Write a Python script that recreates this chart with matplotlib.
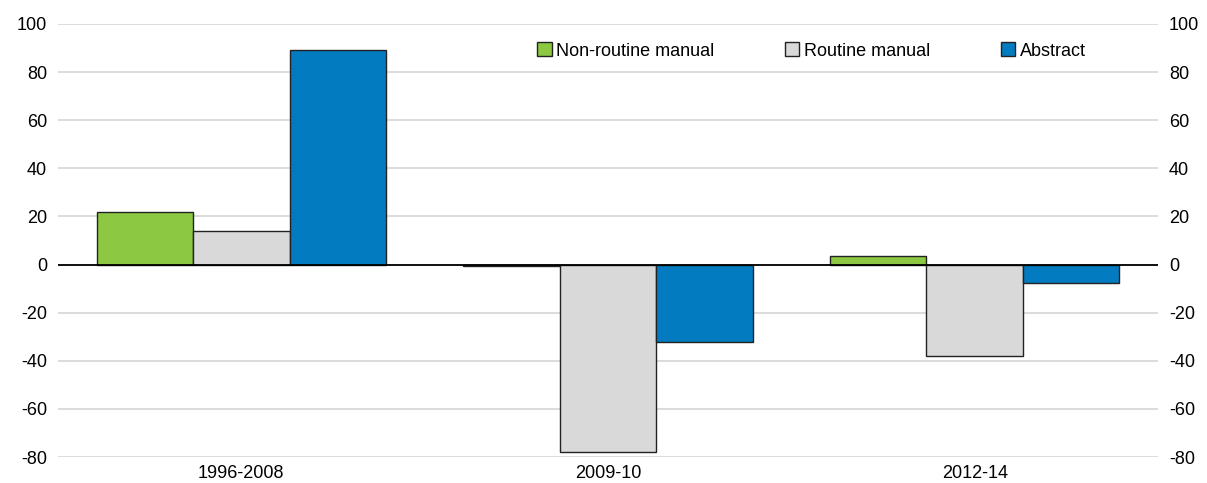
import numpy as np
import matplotlib.pyplot as plt

plt.rcParams['font.family'] = ['Liberation Sans', 'DejaVu Sans']
plt.rcParams['font.size'] = 13
plt.rcParams['axes.unicode_minus'] = False

# data
periods = ["1996-2008", "2009-10", "2012-14"]
non_routine_manual = [22, -0.5, 3.7]
routine_manual = [14, -78, -38]
abstract = [89, -32, -7.5]

series = [
    ("Non-routine manual", non_routine_manual, "#8cc841"),
    ("Routine manual", routine_manual, "#d9d9d9"),
    ("Abstract", abstract, "#037bc1"),
]

fig = plt.figure(figsize=(12.07, 4.83), dpi=100)
ax = fig.add_axes([58 / 1207, 26 / 483, 1100 / 1207, 433 / 483])

x = np.arange(len(periods))
w = 0.263
for i, (name, vals, col) in enumerate(series):
    ax.bar(x + (i - 1) * w, vals, width=w, color=col, edgecolor="#222222",
           linewidth=1.0, label=name, zorder=3)

ax.axhline(0, color="black", linewidth=1.3, zorder=4)
ax.set_xlim(-0.5, 2.5)
ax.set_ylim(-80, 100)
ax.set_yticks(np.arange(-80, 101, 20))
ax.set_xticks(x)
ax.set_xticklabels(periods)
ax.yaxis.grid(True, color="#d9d9d9", linewidth=1.3, zorder=0)
ax.tick_params(length=0, pad=8)
ax.tick_params(axis="x", pad=6)
for s in ax.spines.values():
    s.set_visible(False)

ax2 = ax.twinx()
ax2.set_ylim(ax.get_ylim())
ax2.set_yticks(np.arange(-80, 101, 20))
ax2.tick_params(length=0, pad=8)
for s in ax2.spines.values():
    s.set_visible(False)

leg = ax.legend(loc="upper left", bbox_to_anchor=(0.421, 0.995), ncol=3,
                frameon=False, handlelength=0.8, handleheight=0.8,
                handletextpad=0.25, columnspacing=3.9, fontsize=13)

fig.savefig("out.png", dpi=100)
